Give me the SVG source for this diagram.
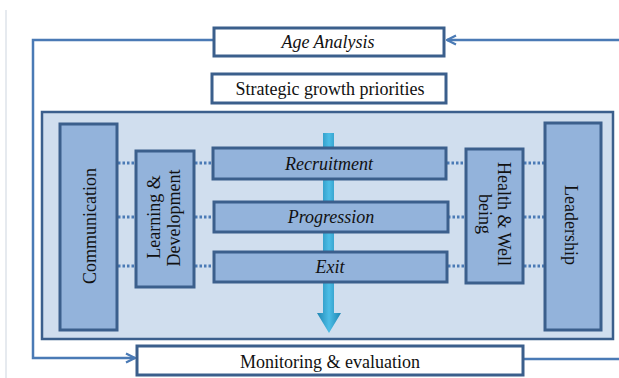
<svg xmlns="http://www.w3.org/2000/svg" width="619" height="378" viewBox="0 0 619 378">
<style>
.t{font-family:"Liberation Serif","Times New Roman",serif;font-size:18px;fill:#111;text-anchor:middle}
.i{font-style:italic}
.wb{fill:#fff;stroke:#3b5f8c;stroke-width:3}
.bb{fill:#93b3db;stroke:#3b5f8c;stroke-width:3}
.loop{fill:none;stroke:#4a7ab5;stroke-width:2.5}
.dot{stroke:#4a7ab5;stroke-width:3;stroke-dasharray:2.5 2}
</style>
<defs>
<marker id="ah" viewBox="0 0 10 10" refX="9" refY="5" markerWidth="4.5" markerHeight="4.5" orient="auto" markerUnits="strokeWidth">
<path d="M1,1 L9,5 L1,9" fill="none" stroke="#4a7ab5" stroke-width="2"/>
</marker>
<linearGradient id="ag" x1="0" y1="0" x2="1" y2="0">
<stop offset="0" stop-color="#1f86b3"/>
<stop offset="0.5" stop-color="#4cbde6"/>
<stop offset="1" stop-color="#1f86b3"/>
</linearGradient>
</defs>
<rect width="619" height="378" fill="#fff"/>
<line x1="6" y1="10" x2="6" y2="378" stroke="#e6eaef" stroke-width="2"/>
<g id="connectors">
<path class="loop" d="M214,40 H33 V358 H135" marker-end="url(#ah)"/>
<path class="loop" d="M619,40 H447" marker-end="url(#ah)"/>
<path class="loop" d="M524,359 H619"/>
</g>
<g id="age-analysis">
<rect class="wb" x="214" y="28" width="230" height="28"/>
<text class="t i" x="328" y="48">Age Analysis</text>
</g>
<g id="strategic">
<rect class="wb" x="212" y="74" width="234" height="29"/>
<text class="t" x="330" y="95">Strategic growth priorities</text>
</g>
<g id="panel">
<rect x="42" y="112" width="571" height="227" fill="#d0deee" stroke="#3b5f8c" stroke-width="2.5"/>
</g>
<g id="flow-arrow">
<path d="M323,133 H334 V313 H341 L329,333 L317,313 H323 Z" fill="url(#ag)"/>
</g>
<g id="dotted-connectors">
<line class="dot" x1="118" y1="163" x2="136" y2="163"/>
<line class="dot" x1="118" y1="217" x2="136" y2="217"/>
<line class="dot" x1="118" y1="266" x2="136" y2="266"/>
<line class="dot" x1="195" y1="163" x2="213" y2="163"/>
<line class="dot" x1="195" y1="217" x2="213" y2="217"/>
<line class="dot" x1="195" y1="266" x2="213" y2="266"/>
<line class="dot" x1="447" y1="163" x2="466" y2="163"/>
<line class="dot" x1="448" y1="217" x2="466" y2="217"/>
<line class="dot" x1="448" y1="266" x2="466" y2="266"/>
<line class="dot" x1="524" y1="163" x2="545" y2="163"/>
<line class="dot" x1="524" y1="217" x2="545" y2="217"/>
<line class="dot" x1="524" y1="266" x2="545" y2="266"/>
</g>
<g id="communication">
<rect class="bb" x="60" y="124" width="57" height="206"/>
<text class="t" transform="translate(96,226) rotate(-90)">Communication</text>
</g>
<g id="learning">
<rect class="bb" x="136" y="151" width="58" height="136"/>
<text class="t" transform="translate(160,217) rotate(-90)">Learning &amp;</text>
<text class="t" transform="translate(180,218) rotate(-90)">Development</text>
</g>
<g id="recruitment">
<rect class="bb" x="213" y="148" width="233" height="31"/>
<text class="t i" x="329" y="170">Recruitment</text>
</g>
<g id="progression">
<rect class="bb" x="214" y="202" width="234" height="30"/>
<text class="t i" x="331" y="223">Progression</text>
</g>
<g id="exit">
<rect class="bb" x="214" y="252" width="233" height="30"/>
<text class="t i" x="330" y="273">Exit</text>
</g>
<g id="health">
<rect class="bb" x="466" y="149" width="57" height="134"/>
<text class="t" transform="translate(498,214) rotate(90)">Health &amp; Well</text>
<text class="t" transform="translate(479,214) rotate(90)">being</text>
</g>
<g id="leadership">
<rect class="bb" x="545" y="123" width="56" height="207"/>
<text class="t" transform="translate(565,225) rotate(90)">Leadership</text>
</g>
<g id="monitoring">
<rect class="wb" x="137" y="346" width="386" height="29"/>
<text class="t" x="330" y="368">Monitoring &amp; evaluation</text>
</g>
</svg>
